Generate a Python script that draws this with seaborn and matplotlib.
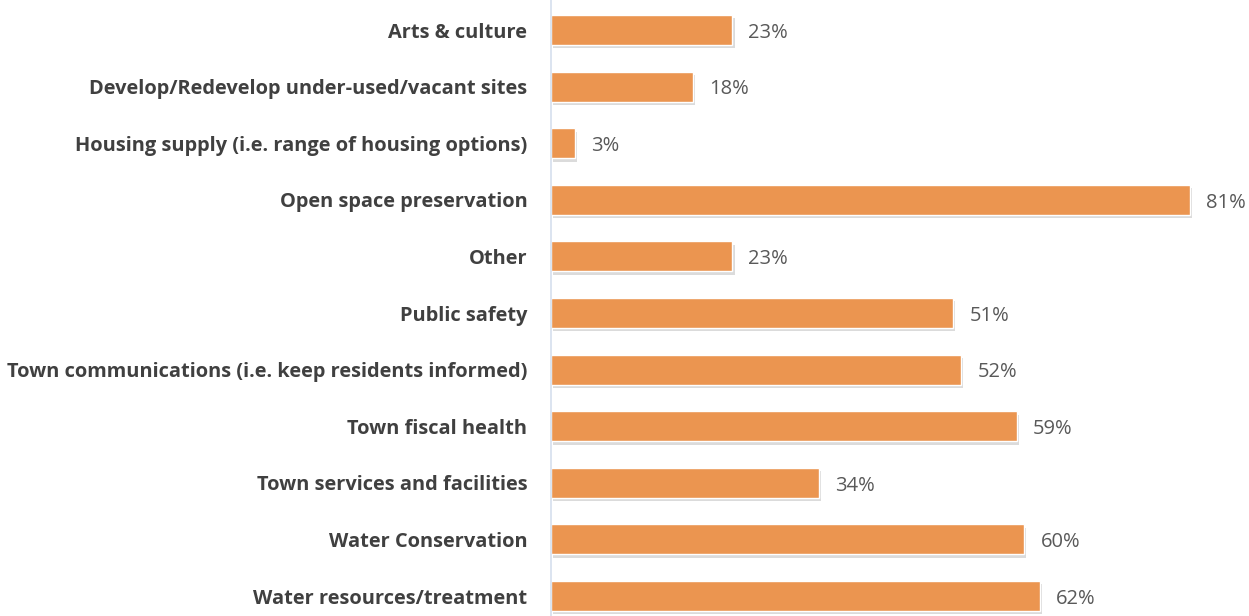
import matplotlib
matplotlib.use("Agg")
import matplotlib.pyplot as plt
import matplotlib.patheffects as pe
import seaborn as sns
import pandas as pd

categories = [
    "Arts & culture",
    "Develop/Redevelop under-used/vacant sites",
    "Housing supply (i.e. range of housing options)",
    "Open space preservation",
    "Other",
    "Public safety",
    "Town communications (i.e. keep residents informed)",
    "Town fiscal health",
    "Town services and facilities",
    "Water Conservation",
    "Water resources/treatment",
]
values = [23, 18, 3, 81, 23, 51, 52, 59, 34, 60, 62]

df = pd.DataFrame({"category": categories, "value": values})

sns.set_theme(style="white")
plt.rcParams["font.family"] = ["Open Sans", "DejaVu Sans"]

W, H = 1249, 616
fig = plt.figure(figsize=(W / 100, H / 100), dpi=100)
ax = fig.add_axes([551 / W, 0, (W - 551) / W, 1])

sns.barplot(data=df, x="value", y="category", color="#EB9550", saturation=1,
            width=0.53, ax=ax, orient="h")

for p in ax.patches:
    p.set_path_effects([pe.SimplePatchShadow(offset=(1.5, -2.5), shadow_rgbFace="#888888", alpha=0.3),
                        pe.Normal()])

ax.set_xlim(0, (W - 551) / 7.89)
ax.set_ylim(10 + 20 / 56.6, -30 / 56.6)

for i, v in enumerate(values):
    ax.text(v + 16 / 7.89, i + 0.05, f"{v}%", va="center", ha="left",
            fontsize=14.5, color="#595959")

ax.set_xlabel("")
ax.set_ylabel("")
ax.set_xticks([])
ax.tick_params(axis="y", length=0, pad=17)
for lab in ax.get_yticklabels():
    lab.set_fontweight("bold")
    lab.set_color("#404040")
    lab.set_fontsize(14.4)

for s in ["top", "right", "bottom"]:
    ax.spines[s].set_visible(False)
ax.spines["left"].set_color("#D6DFEE")
ax.spines["left"].set_linewidth(1.2)

fig.savefig("out.png", dpi=100)
